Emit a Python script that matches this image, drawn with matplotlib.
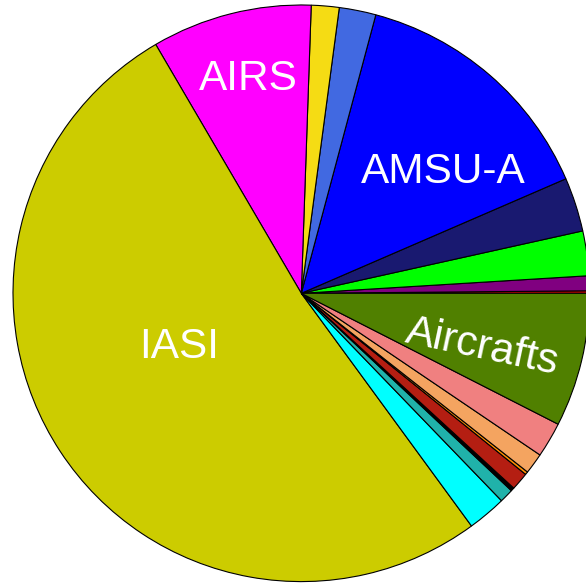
import numpy as np
import matplotlib
matplotlib.use('Agg')
import matplotlib.pyplot as plt

labels = ['', '', '', '', 'AMSU-A', '', '', 'AIRS', 'IASI',
          '', '', '', '', '', '', '', 'Aircrafts']
sizes = [0.5, 3.0, 9.0, 10.9, 51.6, 7.4, 5.6, 32.3, 185.8,
         7.8, 2.8, 0.7, 3.6, 0.6, 4.2, 7.1, 27.0]
colors = ['#ff0000', '#800080', '#00ff00', '#191970', '#0000ff', '#4169e1',
          '#f5dc14', '#ff00ff', '#cccc00', '#00ffff', '#20b2aa', '#000000',
          '#b41e12', '#ff8c00', '#f4a460', '#f08080', '#508000']

# where the labels sit: (radius, angle in degrees, rotation)
label_pos = {
    'AIRS': (0.766, 104.0, 0),
    'AMSU-A': (0.647, 40.6, 0),
    'IASI': (0.462, 204.0, 0),
    'Aircrafts': (0.655, -16.6, -12),
}

fig = plt.figure(figsize=(5.86, 5.85), dpi=100)
W, H = 586, 585
cx, cy, R = 301.3, 293.3, 288.3
ax = fig.add_axes([(cx - R) / W, (H - cy - R) / H, 2 * R / W, 2 * R / H])

ax.pie(sizes, colors=colors, startangle=0, counterclock=True, radius=1,
       wedgeprops=dict(edgecolor='black', linewidth=0.8))
ax.set_xlim(-1, 1)
ax.set_ylim(-1, 1)
ax.set_aspect('equal')
ax.axis('off')

for name in labels:
    if not name:
        continue
    r, th, rot = label_pos[name]
    t = np.deg2rad(th)
    ax.text(r * np.cos(t), r * np.sin(t), name, color='white',
            fontsize=30.5, family='Liberation Sans', rotation=rot,
            rotation_mode='anchor', ha='center', va='center')

fig.savefig('out.png', dpi=100)
